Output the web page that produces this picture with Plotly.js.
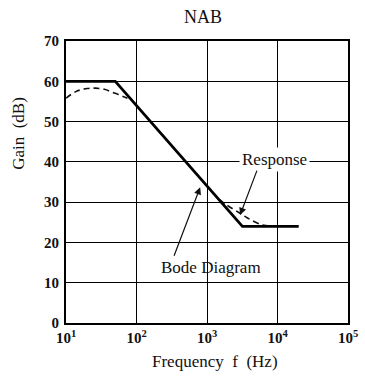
<!DOCTYPE html>
<html>
<head>
<meta charset="utf-8">
<script src="https://cdn.plot.ly/plotly-3.0.1.min.js"></script>
<style>html,body{margin:0;padding:0;background:#fff;}#chart{width:365px;height:382px;}</style>
</head>
<body>
<div id="chart"></div>
<script>
// Bode diagram (asymptotes)
const bodeFreq = [10, 50, 3180, 20000];
const bodeGain = [60, 60, 24, 24];
// Actual response (dashed), low and high frequency parts
const respLowFreq = [10, 14, 20, 26, 35, 50, 70, 85];
const respLowGain = [55.8, 57.5, 58.2, 58.3, 58.0, 57.0, 56.0, 55.4];
const respHighFreq = [1500, 1900, 2900, 3800, 6200, 9000, 12500];
const respHighGain = [30.6, 29.3, 27.3, 26.0, 24.3, 24.1, 24.0];
// Axis ticks
const xTickVals = [10, 100, 1000, 10000, 100000];
const xTickText = ['10<sup>1</sup>', '10<sup>2</sup>', '10<sup>3</sup>', '10<sup>4</sup>', '10<sup>5</sup>'];
const yTickVals = [0, 10, 20, 30, 40, 50, 60, 70];

const serif = 'Liberation Serif, Times New Roman, serif';

const traces = [
  {x: respLowFreq, y: respLowGain, mode: 'lines', line: {color: '#111', width: 1.6, dash: '6px,4px', shape: 'spline'}, showlegend: false, hoverinfo: 'skip'},
  {x: respHighFreq, y: respHighGain, mode: 'lines', line: {color: '#111', width: 1.6, dash: '6px,4px', shape: 'spline'}, showlegend: false, hoverinfo: 'skip'},
  {x: bodeFreq, y: bodeGain, mode: 'lines', line: {color: '#000', width: 2.8}, showlegend: false, hoverinfo: 'skip'}
];

const layout = {
  width: 365, height: 382,
  margin: {l: 66, r: 17, t: 41, b: 59},
  paper_bgcolor: '#fff', plot_bgcolor: '#fff',
  title: {text: 'NAB', font: {family: serif, size: 18, color: '#111'}, x: 0.556, xanchor: 'center', y: 0.955, yanchor: 'middle'},
  xaxis: {
    type: 'log', range: [1, 5],
    tickvals: xTickVals, ticktext: xTickText,
    showgrid: true, gridcolor: '#000', gridwidth: 1,
    showline: true, linecolor: '#000', linewidth: 2, mirror: true,
    ticks: '', zeroline: false, ticklabelstandoff: 0,
    tickfont: {family: serif, size: 15, color: '#111', weight: 'bold'}
  },
  yaxis: {
    range: [0, 70], tickvals: yTickVals,
    showgrid: true, gridcolor: '#000', gridwidth: 1,
    showline: true, linecolor: '#000', linewidth: 2, mirror: true,
    ticks: '', zeroline: false, ticklabelstandoff: 2,
    tickfont: {family: serif, size: 15, color: '#111', weight: 'bold'}
  },
  annotations: [
    {text: 'Gain  (dB)', xref: 'paper', yref: 'paper', x: -0.167, y: 0.674, xanchor: 'center', yanchor: 'middle', textangle: -90, showarrow: false, font: {family: serif, size: 17, color: '#111'}},
    {text: 'Frequency  f  (Hz)', xref: 'paper', yref: 'paper', x: 0.528, y: -0.135, xanchor: 'center', yanchor: 'middle', showarrow: false, font: {family: serif, size: 17, color: '#111'}},
    {text: 'Response', x: Math.log10(9000), y: 40.6, xref: 'x', yref: 'y', showarrow: false, bgcolor: '#fff', borderpad: 2, font: {family: serif, size: 17, color: '#111'}},
    {text: '', x: Math.log10(2950), y: 26.8, xref: 'x', yref: 'y', ax: Math.log10(5200), ay: 38.2, axref: 'x', ayref: 'y', showarrow: true, arrowhead: 2, arrowsize: 1.2, arrowwidth: 1.2, arrowcolor: '#111'},
    {text: 'Bode Diagram', x: Math.log10(1150), y: 13.8, xref: 'x', yref: 'y', showarrow: false, font: {family: serif, size: 17, color: '#111'}},
    {text: '', x: Math.log10(800), y: 33.7, xref: 'x', yref: 'y', ax: Math.log10(335), ay: 16.3, axref: 'x', ayref: 'y', showarrow: true, arrowhead: 2, arrowsize: 1.2, arrowwidth: 1.2, arrowcolor: '#111'}
  ]
};

Plotly.newPlot('chart', traces, layout, {displayModeBar: false, staticPlot: true});
</script>
</body>
</html>
